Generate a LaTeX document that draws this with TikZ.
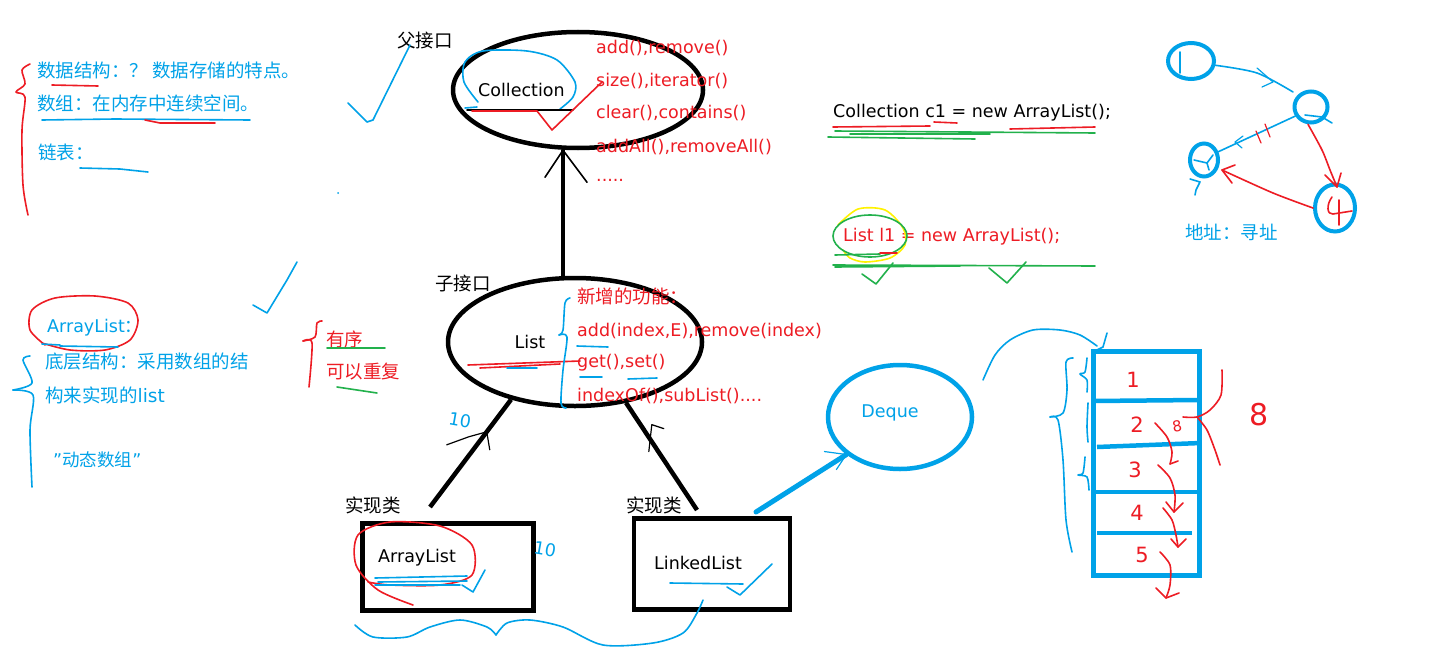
\documentclass[tikz,border=0pt]{standalone}
\usepackage{fontspec}
\setmainfont{DejaVu Sans}
\newfontfamily\cjk{Noto Sans CJK SC}
\usetikzlibrary{positioning,shapes.geometric,calc}
\definecolor{penblue}{RGB}{0,162,232}
\definecolor{penred}{RGB}{237,28,36}
\definecolor{pengreen}{RGB}{34,177,76}
\definecolor{penyellow}{RGB}{255,242,0}
\tikzset{
	lbl/.style={inner sep=0pt, anchor=west, font=\fontsize{17.5}{20}\selectfont},
	zh/.style={inner sep=0pt, anchor=west, font=\cjk\fontsize{18.5}{20}\selectfont},
	handnum/.style={inner sep=0pt, text=penred, font=\fontsize{21}{24}\selectfont},
	thick pen/.style={line width=4.5pt},
	pen/.style={line width=1.6pt, line cap=round, line join=round},
	hand/.style={line width=1.2pt, line cap=round, line join=round},
	bubble/.style={ellipse, draw=penblue, line width=4pt, inner sep=0pt},
}
\begin{document}
\begin{tikzpicture}[x=1pt,y=-1pt]
	\useasboundingbox (0,0) rectangle (1434,661);
	\fill[white] (0,0) rectangle (1434,661);
	
	\node[zh, text=penblue] (dsnote) at (37,70) {数据结构：？ 数据存储的特点。};
	\node[zh, text=penblue] (arrnote) at (37,103) {数组：在内存中连续空间。};
	\node[zh, text=penblue] (lnknote) at (38,152) {链表：};
	\draw[pen, penred] plot[smooth] coordinates {(30,64) (22,70) (25,84) (16,92) (25,97) (22,130) (23,185) (28,215)};
	\draw[pen, penred] (52,85) -- (98,86);
	\draw[pen, penblue] (42,120) -- (115,119) -- (250,120);
	\draw[pen, penred] (145,120) -- (160,123) -- (215,123);
	\draw[pen, penblue] (80,168) -- (120,169) -- (148,172);
	\fill[penblue] (338,193) circle (1pt);
	
	\node[zh] (parent) at (397,41) {父接口};
	\draw[pen, penblue] (348,103) -- (367,122) -- (373,120) -- (410,45);
	\node[ellipse, draw, thick pen, minimum width=250pt, minimum height=116pt] (collection) at (578,90) {};
	\node[lbl] (colname) at (478,90) {Collection};
	\draw[pen, penblue] plot[smooth] coordinates {(478,102) (464,82) (465,62) (483,51) (527,51) (557,60) (575,82) (573,97) (560,109)};
	\draw[pen, penblue] (465,108) -- (477,107);
	\draw[pen] (467,110) -- (573,110);
	\draw[pen, penred] (472,111) -- (537,111) -- (552,130) -- (602,82);
	\node[lbl, text=penred] (colm1) at (596,48) {add(),remove()};
	\node[lbl, text=penred] (colm2) at (596,81) {size(),iterator()};
	\node[lbl, text=penred] (colm3) at (596,113) {clear(),contains()};
	\node[lbl, text=penred] (colm4) at (596,147) {addAll(),removeAll()};
	\node[lbl, text=penred] (colm5) at (596,180) {.....};
	
	\node[ellipse, draw, thick pen, minimum width=254pt, minimum height=128pt] (list) at (575,342) {};
	\node[zh] (child) at (435,283) {子接口};
	\node[lbl, anchor=center] (listname) at (530,342) {List};
	\coordinate (coltip) at ([xshift=-15pt]collection.south);
	\draw[thick pen] ([xshift=-12pt]list.north) -- (coltip);
	\draw[pen] (coltip) ++(-18,27) -- (coltip) -- ++(24,32);
	\draw[pen, penred] (468,365) -- (580,361);
	\draw[pen, penred] (480,368) -- (560,364);
	\draw[pen, penblue] (507,368) -- (537,368);
	\draw[pen, penblue] plot[smooth] coordinates {(570,298) (565,303) (563,330) (559,335)};
	\draw[pen, penblue] plot[smooth] coordinates {(559,335) (567,337) (563,370) (561,403) (566,408)};
	\node[zh, text=penred] (newfeat) at (577,296) {新增的功能：};
	\node[lbl, text=penred] (listm1) at (577,331) {add(index,E),remove(index)};
	\node[lbl, text=penred] (listm2) at (577,363) {get(),set()};
	\node[lbl, text=penred] (listm3) at (577,396) {indexOf(),subList()....};
	\draw[pen, penblue] (577,346) -- (608,347);
	\draw[pen, penblue] (580,377) -- (602,377);
	\draw[pen, penblue] (628,379) -- (657,378);
	
	\node[draw, thick pen, minimum width=171pt, minimum height=87pt] (arraylist) at (448,567) {};
	\node[lbl] (alname) at (378,558) {ArrayList};
	\node[draw, thick pen, minimum width=156pt, minimum height=91pt] (linkedlist) at (712,564) {};
	\node[lbl] (llname) at (654,563) {LinkedList};
	\node[zh] (impl1) at (345,505) {实现类};
	\node[zh] (impl2) at (626,505) {实现类};
	\coordinate (alend) at (430,507);
	\coordinate (llend) at (697,510);
	\draw[thick pen] (list.222) -- (alend);
	\draw[thick pen] (list.310) -- (llend);
	\coordinate (albarb) at ($(list.222)!0.3!(alend)$);
	\coordinate (llbarb) at ($(list.310)!0.25!(llend)$);
	\draw[hand] (albarb) ++(-40,13) -- ++(22,-8) -- (albarb) -- ++(3,18);
	\draw[hand] (llbarb) ++(5,22) -- ++(3,-27) -- ++(12,4);
	\node[lbl, text=penblue, anchor=center, rotate=-10] (cap1) at (460,420) {10};
	\node[lbl, text=penblue, anchor=center, rotate=-10] (cap2) at (545,549) {10};
	\draw[pen, penred] plot[smooth] coordinates {(413,605) (378,590) (356,565) (358,535) (390,522) (440,526) (472,545) (472,575) (440,585) (390,585) (368,582)};
	\draw[pen, penblue] (375,578) -- (467,576);
	\draw[pen, penblue] (378,582) -- (467,581);
	\draw[pen, penblue] (375,585) -- (460,585);
	\draw[pen, penblue] (462,585) -- (473,592) -- (485,570);
	\draw[pen, penblue] (670,583) -- (743,584);
	\draw[pen, penblue] (727,587) -- (740,595) -- (772,564);
	\draw[pen, penblue] plot[smooth] coordinates {(355,625) (373,637) (407,637) (430,627) (460,620) (487,627) (496,635)};
	\draw[pen, penblue] plot[smooth] coordinates {(496,635) (507,623) (530,620) (563,627) (603,645) (653,643) (683,633) (697,613) (703,600)};
	
	\node[ellipse, draw=penblue, line width=4.5pt, minimum width=144pt, minimum height=104pt] (deque) at (900,417) {};
	\node[lbl, text=penblue, anchor=center] (dqname) at (890,413) {Deque};
	\coordinate (dqtail) at (756,512);
	\draw[line width=5pt, penblue, line cap=round] (dqtail) -- (deque.215);
	\draw[hand, penblue] (deque.215) ++(-22,-3) -- (deque.215) -- ++(-10,15);
	
	\node[draw=penblue, line width=5pt, minimum width=106pt, minimum height=224pt] (arraybox) at (1146,463) {};
	\draw[line width=4.5pt, penblue] (1093,401) -- (1199,400);
	\draw[line width=4.5pt, penblue] (1097,447) -- (1201,443);
	\draw[line width=4.5pt, penblue] (1093,492) -- (1199,492);
	\draw[line width=4.5pt, penblue] (1097,533) -- (1192,533);
	\node[handnum] (cell1) at (1133,380) {1};
	\node[handnum] (cell2) at (1137,425) {2};
	\node[handnum] (cell3) at (1135,470) {3};
	\node[handnum] (cell4) at (1137,513) {4};
	\node[handnum] (cell5) at (1142,555) {5};
	\node[handnum, font=\fontsize{15}{16}\selectfont, rotate=10] (cellx) at (1177,426) {8};
	\node[handnum, font=\fontsize{30}{32}\selectfont] (spare) at (1259,415) {8};
	\draw[pen, penred] plot[smooth] coordinates {(1155,423) (1167,437) (1172,452) (1170,464)};
	\draw[pen, penred] (1170,464) -- (1178,461);
	\draw[pen, penred] plot[smooth] coordinates {(1158,465) (1170,478) (1175,495) (1174,512)};
	\draw[pen, penred] (1166,502) -- (1174,512) -- (1183,503);
	\draw[pen, penred] plot[smooth] coordinates {(1163,508) (1172,520) (1176,535) (1178,547)};
	\draw[pen, penred] (1171,539) -- (1178,547) -- (1186,539);
	\draw[pen, penred] plot[smooth] coordinates {(1160,552) (1170,565) (1170,585) (1166,598)};
	\draw[pen, penred] (1156,588) -- (1166,598) -- (1179,593);
	\draw[pen, penred] plot[smooth] coordinates {(1222,370) (1221,395) (1210,410) (1197,417) (1183,417)};
	\draw[pen, penred] plot[smooth] coordinates {(1197,417) (1207,430) (1215,450) (1220,465)};
	\draw[pen, penblue] plot[smooth] coordinates {(1073,358) (1066,362) (1067,390) (1063,413) (1050,417)};
	\draw[pen, penblue] plot[smooth] coordinates {(1050,417) (1058,420) (1063,460) (1066,520) (1072,552)};
	\draw[pen, penblue] plot[smooth] coordinates {(1087,358) (1085,372) (1080,374) (1087,380) (1087,392)};
	\draw[pen, penblue] plot[smooth] coordinates {(1088,403) (1087,427) (1088,442)};
	\draw[pen, penblue] plot[smooth] coordinates {(1085,457) (1083,473) (1078,475) (1087,477) (1089,490)};
	\draw[pen, penblue] plot[smooth] coordinates {(983,380) (995,355) (1010,340) (1033,330) (1060,330) (1080,335) (1097,346)};
	\draw[pen, penblue] (1107,333) -- (1103,347) -- (1097,350);
	
	\node[lbl] (decl1) at (833,113) {Collection c1 = new ArrayList();};
	\draw[pen, penred] (833,127) -- (930,126);
	\draw[pen, penred] (934,122) -- (957,123);
	\draw[pen, penred] (1010,129) -- (1095,127);
	\draw[pen, pengreen] (835,131) -- (1095,133);
	\draw[pen, pengreen] (828,137) -- (975,139);
	\draw[pen, pengreen] (850,134) -- (990,134);
	\node[lbl, text=penred] (decl2) at (843,237) {List l1 = new ArrayList();};
	\draw[pen, penyellow] plot[smooth] coordinates {(838,225) (858,209) (885,210) (903,228) (905,245) (890,258) (865,262) (850,258) (843,250)};
	\draw[pen, pengreen] (870,236) ellipse [x radius=37pt, y radius=21pt];
	\draw[pen, pengreen] (835,255) -- (880,254);
	\draw[pen, penred] (880,253) -- (897,253);
	\draw[pen, pengreen] (833,265) -- (1095,266);
	\draw[pen, pengreen] (835,267) -- (960,266);
	\draw[pen, pengreen] (862,274) -- (876,284) -- (893,263);
	\draw[pen, pengreen] (989,268) -- (1007,283) -- (1026,262);
	
	\node[bubble, minimum width=46pt, minimum height=36pt] (ln1) at (1191,61) {};
	\node[bubble, minimum width=33pt, minimum height=31pt] (ln2) at (1311,107) {};
	\node[bubble, minimum width=28pt, minimum height=33pt] (ln3) at (1204,160) {};
	\node[bubble, minimum width=40pt, minimum height=47pt] (ln4) at (1335,208) {};
	\draw[pen, penblue] (1180,52) -- (1180,73);
	\draw[pen, penblue] plot[smooth] coordinates {(ln1.-10) (1257,73) (1293,92)};
	\draw[hand, penblue] (1257,68) -- (1273,82) -- (1262,87);
	\draw[pen, penblue] (ln2.210) -- (ln3.30);
	\draw[hand, penblue] (1243,136) -- (1235,142) -- (1242,148);
	\draw[hand, penred] (1256,131) -- (1261,143);
	\draw[hand, penred] (1265,124) -- (1270,137);
	\draw[pen, penblue] (1305,115) -- (1322,117) -- (1332,123);
	\draw[pen, penblue] (1194,160) -- (1207,163) -- (1213,155);
	\draw[pen, penblue] (1207,163) -- (1209,170);
	\draw[pen, penblue] (1190,179) -- (1200,182) -- (1196,190) -- (1195,195);
	\draw[pen, penred] plot[smooth] coordinates {(ln2.-100) (1322,150) (1330,170) (1337,187)};
	\draw[pen, penred] (1325,175) -- (1337,187) -- (1341,173);
	\draw[pen, penred] plot[smooth] coordinates {(ln4.west) (1273,193) (1222,170)};
	\draw[pen, penred] (1235,165) -- (1222,170) -- (1232,183);
	\draw[pen, penred] (1332,197) .. controls (1326,205) and (1327,215) .. (1333,214) -- (1352,211);
	\draw[pen, penred] (1339,200) -- (1339,225);
	\node[zh, text=penblue] (addr) at (1185,232) {地址：寻址};
	
	\draw[pen, penblue] (253,305) -- (267,313) -- (287,280) -- (297,262);
	\node[lbl, text=penblue] (alnote) at (47,328) {ArrayList{\cjk ：}};
	\draw[pen, penred] plot[smooth] coordinates {(45,345) (30,330) (32,310) (55,298) (95,296) (128,303) (138,320) (130,340) (105,350) (70,350) (42,343)};
	\draw[pen, penblue] (42,344) -- (60,345);
	\draw[pen, penblue] (60,346) -- (118,347);
	\node[zh, text=penblue] (albase1) at (45,362) {底层结构：采用数组的结};
	\node[zh, text=penblue] (albase2) at (45,395) {构来实现的{\rmfamily list}};
	\node[lbl, text=penblue] (aldyn) at (53,460) {"{\cjk 动态数组}"};
	\draw[pen, penblue] plot[smooth] coordinates {(30,356) (23,360) (32,383) (13,390)};
	\draw[pen, penblue] plot[smooth] coordinates {(13,390) (33,395) (30,430) (32,487)};
	\draw[pen, penred] plot[smooth] coordinates {(322,321) (317,323) (315,337) (303,341)};
	\draw[pen, penred] plot[smooth] coordinates {(303,341) (312,343) (309,387)};
	\node[zh, text=penred] (ordered) at (326,339) {有序};
	\node[zh, text=penred] (repeat) at (326,372) {可以重复};
	\draw[pen, pengreen] (327,348) -- (385,348);
	\draw[pen, pengreen] (337,387) -- (377,393);
\end{tikzpicture}
\end{document}
